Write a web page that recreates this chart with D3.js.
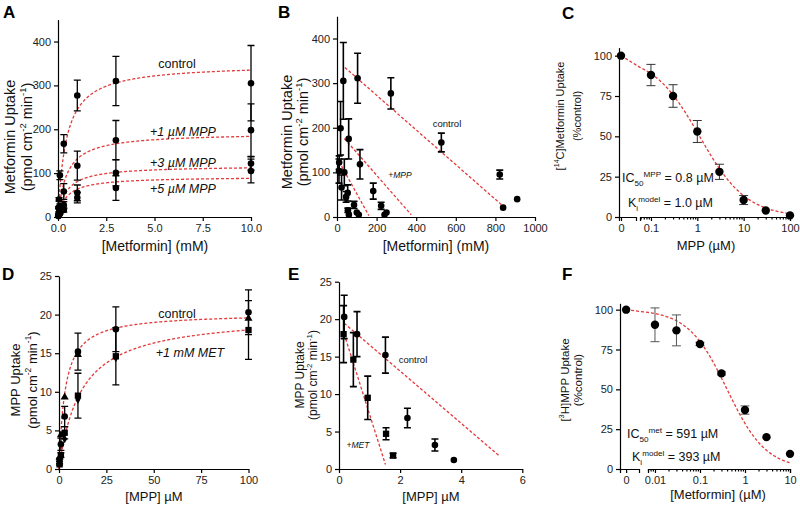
<!DOCTYPE html>
<html>
<head>
<meta charset="utf-8">
<script src="https://cdn.jsdelivr.net/npm/d3@7"></script>
<style>
body { margin: 0; background: #fff; }
svg { display: block; font-family: "Liberation Sans", Arial, Helvetica, sans-serif; }
.axis path, .axis line { stroke: #000; stroke-width: 1.2; }
.axis text { font-size: 11px; fill: #222; font-family: "Liberation Sans", Arial, sans-serif; }
</style>
</head>
<body>
<svg id="chart" width="800" height="509"></svg>
<script>
// ---- panel A: metformin uptake vs [metformin] (mM)
var aConc = [0.025, 0.05, 0.1, 0.3, 1, 3, 10];
var aControl = [21, 40, 95, 167, 277, 310, 305];
var aControlSd = [2, 4, 10, 21, 35, 56, 86];
var aMpp1 = [5, 10, 25, 58, 117, 175, 198];
var aMpp1Sd = [1, 2, 5, 18, 33, 45, 60];
var aMpp3 = [3, 6, 12, 27, 55, 101, 122];
var aMpp3Sd = [1, 1, 3, 8, 18, 30, 15];
var aMpp5 = [2, 4, 8, 16, 44, 66, 105];
var aMpp5Sd = [1, 1, 2, 5, 12, 28, 27];
var aFitVmax = [349, 192, 117, 92];
var aFitKm = [0.425, 0.45, 0.45, 0.45];
var aLabels = ["control", "+1 \u00b5M MPP", "+3 \u00b5M MPP", "+5 \u00b5M MPP"];

// ---- panel B: Eadie-Hofstee of A
var bControlX = [32, 104, 272, 527, 822, 839, 910];
var bControlY = [305, 311, 277, 167, 95, 21, 40];
var bControlSd = [86, 56, 35, 21, 10, 0, 0];
var bMpp1X = [18, 59, 116, 183, 223, 240, 250];
var bMpp1Y = [199, 175, 118, 58, 25, 5, 10];
var bMpp1Sd = [60, 45, 33, 18, 8, 0, 0];
var bMpp3X = [11, 37, 54, 86, 100, 110];
var bMpp3Y = [122, 100, 54, 27, 10, 5];
var bMpp3Sd = [15, 30, 18, 8, 0, 0];
var bMpp5X = [10, 23, 46, 55, 60];
var bMpp5Y = [103, 66, 45, 15, 5];
var bMpp5Sd = [27, 28, 12, 5, 0];
var bLines = [[40, 335, 845, 22], [37, 176, 375, 5], [23, 114, 161, 3]];

// ---- panel C: MPP inhibition of metformin uptake
var cConc = [0, 0.1, 0.3, 1, 3, 10, 30, 100];
var cUptake = [100, 88, 75, 53, 28, 10.5, 4, 1];
var cSd = [0, 6.6, 7, 6.8, 4.7, 2.8, 0, 0];
var cFit = [1.12, 0.86]; // IC50, hill
var cMajor = [0.1, 1, 10, 100];

// ---- panel D: MPP uptake vs [MPP] (uM)
var dConc = [0.3, 1, 3, 10, 30, 100];
var dControl = [1.2, 3.2, 6.8, 15.2, 18.1, 20.3];
var dControlSd = [0.2, 0.8, 1.3, 2.4, 2.9, 2.9];
var dMet = [0.6, 1.8, 4.7, 9.5, 14.6, 18.0];
var dMetSd = [0.1, 0.3, 0.8, 2.9, 3.7, 3.8];
var dTriConc = [0.3, 1, 3, 10, 100];
var dTri = [1.5, 4.4, 9.3, 14.8, 19.5];
var dDiaConc = [1, 3, 10, 30];
var dDia = [1.6, 3.9, 9.0, 14.4];
var dFitVmax = [20.2, 20.1];
var dFitKm = [3.2, 11.6];

// ---- panel E: Eadie-Hofstee of D
var eControlX = [0.17, 0.59, 1.52, 2.24, 3.14, 3.76];
var eControlY = [20.3, 18.0, 15.2, 6.8, 3.2, 1.2];
var eControlSd = [2.9, 3.0, 2.4, 1.3, 0.8, 0];
var eMetX = [0.15, 0.47, 0.94, 1.54, 1.77];
var eMetY = [18.0, 14.6, 9.5, 4.7, 1.8];
var eMetSd = [3.8, 3.6, 2.9, 0.8, 0.3];
var eLines = [[0.17, 19.45, 5.24, 1.78], [0.17, 18.0, 1.52, 0.6]];

// ---- panel F: metformin inhibition of MPP uptake
var fConc = [0, 0.01, 0.03, 0.1, 0.3, 1, 3, 10];
var fUptake = [100, 90.5, 87, 78.5, 60, 37, 20, 9.5];
var fSd = [0, 10.6, 9.7, 1, 1, 2.6, 0, 0];
var fFit = [0.4, 1.0];
var fMajor = [0.01, 0.1, 1, 10];

var svg = d3.select("#chart");
var red = "#e33a3a";
var plain = function(d) { return String(d); };

function yAxis(x0, y, ticks) {
  svg.append("g").attr("class", "axis").attr("transform", "translate(" + x0 + ",0)")
    .call(d3.axisLeft(y).tickValues(ticks).tickSize(4).tickSizeOuter(0).tickFormat(plain));
}
function xAxis(y0, x, ticks, fmt) {
  svg.append("g").attr("class", "axis").attr("transform", "translate(0," + y0 + ")")
    .call(d3.axisBottom(x).tickValues(ticks).tickSize(4).tickSizeOuter(0).tickFormat(fmt || plain));
}

function errBars(xs, ys, sds, x, y, cap, color, w) {
  var data = xs.map(function(v, i) { return {x: v, y: ys[i], s: sds[i]}; })
    .filter(function(d) { return d.s > 0; });
  svg.append("g").attr("stroke", color).attr("stroke-width", w).attr("fill", "none")
    .selectAll("path").data(data).join("path")
    .attr("d", function(d) {
      var cx = x(d.x), t = y(d.y + d.s), b = y(Math.max(0, d.y - d.s));
      return "M" + (cx - cap) + "," + t + "H" + (cx + cap) + "M" + cx + "," + t + "V" + b +
        "M" + (cx - cap) + "," + b + "H" + (cx + cap);
    });
}

function dots(xs, ys, x, y, r) {
  svg.append("g").selectAll("circle").data(xs).join("circle")
    .attr("cx", function(d) { return x(d); })
    .attr("cy", function(d, i) { return y(ys[i]); })
    .attr("r", r).attr("fill", "#000");
}
function symbols(xs, ys, x, y, type, size) {
  svg.append("g").selectAll("path").data(xs).join("path")
    .attr("transform", function(d, i) { return "translate(" + x(d) + "," + y(ys[i]) + ")"; })
    .attr("d", d3.symbol().type(type).size(size)).attr("fill", "#000");
}

function dashed(pts, x, y) {
  svg.append("path").datum(pts)
    .attr("d", d3.line().x(function(d) { return x(d[0]); }).y(function(d) { return y(d[1]); }))
    .attr("fill", "none").attr("stroke", red).attr("stroke-width", 1.3)
    .attr("stroke-dasharray", "3,2");
}

// rich text with sub/superscripts
function rich(parent, parts, size) {
  var t = parent.append("text").attr("font-size", size).attr("fill", "#111");
  var off = 0;
  parts.forEach(function(p) {
    var target = p.sup ? -0.42 * size : (p.sub ? 0.28 * size : 0);
    t.append("tspan").attr("dy", target - off)
      .attr("font-size", p.sup || p.sub ? size * 0.65 : size).text(p.t);
    off = target;
  });
  return t;
}

function yTitle(cx1, cx2, cy, size, line1, line2) {
  var g1 = svg.append("g").attr("transform", "translate(" + (cx1 + size * 0.35) + "," + cy + ") rotate(-90)");
  rich(g1, line1, size).attr("text-anchor", "middle");
  var g2 = svg.append("g").attr("transform", "translate(" + (cx2 + size * 0.35) + "," + cy + ") rotate(-90)");
  rich(g2, line2, size).attr("text-anchor", "middle");
}
var pmol = [{t: "(pmol cm"}, {t: "-2", sup: true}, {t: " min"}, {t: "-1", sup: true}, {t: ")"}];

function label(x, y, txt, size, italic, anchor) {
  svg.append("text").attr("x", x).attr("y", y).attr("font-size", size)
    .attr("font-style", italic ? "italic" : "normal").attr("fill", "#111")
    .attr("text-anchor", anchor || "middle").text(txt);
}
function letter(x, y, t) {
  svg.append("text").attr("x", x).attr("y", y).attr("font-size", 17)
    .attr("font-weight", "bold").attr("fill", "#000").text(t);
}

function mmCurve(vmax, km, xmax) {
  return d3.range(0, 401).map(function(i) {
    var s = xmax * Math.pow(i / 400, 1.6);
    return [s, vmax * s / (km + s)];
  });
}

// ================= A
var ax = d3.scaleLinear().domain([0, 10]).range([58, 251]);
var ay = d3.scaleLinear().domain([0, 450]).range([217, 19.6]);
[0, 1, 2, 3].forEach(function(k) { dashed(mmCurve(aFitVmax[k], aFitKm[k], 10), ax, ay); });
[[aMpp5, aMpp5Sd], [aMpp3, aMpp3Sd], [aMpp1, aMpp1Sd], [aControl, aControlSd]].forEach(function(s) {
  errBars(aConc, s[0], s[1], ax, ay, 3.5, "#000", 1.3);
  dots(aConc, s[0], ax, ay, 3.3);
});
yAxis(58, ay, [0, 100, 200, 300, 400]);
xAxis(217, ax, [0, 2.5, 5, 7.5, 10], d3.format(".1f"));
label(177, 68, aLabels[0], 12.5, false);
label(183, 136, aLabels[1], 12.5, true);
label(183, 167, aLabels[2], 12.5, true);
label(183, 193, aLabels[3], 12.5, true);
yTitle(10, 27, 137, 14.5, [{t: "Metformin Uptake"}], pmol);
label(155, 251, "[Metformin] (mM)", 14, false);
letter(3, 18, "A");

// ================= B
var bx = d3.scaleLinear().domain([0, 1000]).range([337, 535]);
var by = d3.scaleLinear().domain([0, 450]).range([217, 16.2]);
bLines.forEach(function(l) { dashed([[l[0], l[1]], [l[2], l[3]]], bx, by); });
[[bMpp5X, bMpp5Y, bMpp5Sd], [bMpp3X, bMpp3Y, bMpp3Sd], [bMpp1X, bMpp1Y, bMpp1Sd], [bControlX, bControlY, bControlSd]].forEach(function(s) {
  errBars(s[0], s[1], s[2], bx, by, 3.5, "#000", 1.6);
  dots(s[0], s[1], bx, by, 3.3);
});
yAxis(337, by, [0, 100, 200, 300, 400]);
xAxis(217, bx, [0, 200, 400, 600, 800, 1000]);
label(447, 127, "control", 9.5, false);
label(400, 178, "+MPP", 8.5, true);
yTitle(287, 303, 132, 14.5, [{t: "Metformin Uptake"}], pmol);
label(436, 251, "[Metformin] (mM)", 14, false);
letter(278, 18, "B");

// ================= C
var cy = d3.scaleLinear().domain([0, 105]).range([217, 47.6]);
var cx0 = d3.scaleLinear().domain([-1, 7.5]).range([619, 636]);
var cxl = d3.scaleLog().domain([0.058, 100]).range([640, 790]);
var cxp = function(d) { return d === 0 ? cx0(0) : cxl(d); };
var cCurve = [[0, 100]].concat(d3.range(0, 201).map(function(i) {
  var v = Math.pow(10, Math.log10(0.058) + i * (2 - Math.log10(0.058)) / 200);
  return [v, 100 / (1 + Math.pow(v / cFit[0], cFit[1]))];
}));
dashed(cCurve, cxp, cy);
errBars(cConc, cUptake, cSd, cxp, cy, 4.5, "#333", 1);
dots(cConc, cUptake, cxp, cy, 4.2);
yAxis(619, cy, [0, 25, 50, 75, 100]);
svg.append("g").attr("class", "axis").attr("transform", "translate(0,217)")
  .call(d3.axisBottom(cx0).tickValues([0]).tickSize(4).tickSizeOuter(4).tickFormat(plain));
svg.append("g").attr("class", "axis").attr("transform", "translate(0,217)")
  .call(d3.axisBottom(cxl).tickValues(cMajor).tickSize(4).tickSizeOuter(4).tickFormat(plain));
svg.append("g").attr("class", "axis").attr("transform", "translate(0,217)")
  .call(d3.axisBottom(cxl).tickValues(cxl.ticks().filter(function(d) { return cMajor.indexOf(d) < 0; }))
    .tickSize(2.5).tickSizeOuter(0).tickFormat(""))
  .select(".domain").remove();
rich(svg, [{t: "IC"}, {t: "50", sub: true}, {t: "MPP", sup: true}, {t: " = 0.8 \u00b5M"}], 12.5)
  .attr("x", 622).attr("y", 182);
rich(svg, [{t: "K"}, {t: "i", sub: true}, {t: "model", sup: true}, {t: " = 1.0 \u00b5M"}], 12.5)
  .attr("x", 628).attr("y", 207);
yTitle(560, 577, 116, 11, [{t: "["}, {t: "14", sup: true}, {t: "C]Metformin Uptake"}], [{t: "(%control)"}]);
label(706, 250, "MPP (\u00b5M)", 13, false);
letter(562, 19, "C");

// ================= D
var dx = d3.scaleLinear().domain([0, 100]).range([59, 248.5]);
var dy = d3.scaleLinear().domain([0, 25]).range([469, 276]);
dFitVmax.forEach(function(v, k) { dashed(mmCurve(v, dFitKm[k], 100), dx, dy); });
errBars(dConc, dMet, dMetSd, dx, dy, 3.5, "#000", 1.3);
errBars(dConc, dControl, dControlSd, dx, dy, 3.5, "#000", 1.3);
symbols(dDiaConc, dDia, dx, dy, d3.symbolDiamond, 22);
symbols(dTriConc, dTri, dx, dy, d3.symbolTriangle, 28);
symbols(dConc, dMet, dx, dy, d3.symbolSquare, 40);
dots(dConc, dControl, dx, dy, 3.3);
yAxis(59, dy, [0, 5, 10, 15, 20, 25]);
xAxis(469, dx, [0, 25, 50, 75, 100]);
label(177, 318, "control", 12.5, false);
label(190, 357, "+1 mM MET", 12.5, true);
yTitle(15, 32, 380, 13, [{t: "MPP Uptake"}], pmol);
label(154, 501, "[MPP] \u00b5M", 13, false);
letter(2, 280, "D");

// ================= E
var ex = d3.scaleLinear().domain([0, 6]).range([339, 522.3]);
var ey = d3.scaleLinear().domain([0, 25]).range([469, 281.7]);
eLines.forEach(function(l) { dashed([[l[0], l[1]], [l[2], l[3]]], ex, ey); });
errBars(eMetX, eMetY, eMetSd, ex, ey, 3.5, "#000", 1.6);
errBars(eControlX, eControlY, eControlSd, ex, ey, 3.5, "#000", 1.6);
symbols(eMetX, eMetY, ex, ey, d3.symbolSquare, 40);
dots(eControlX, eControlY, ex, ey, 3.3);
yAxis(339, ey, [0, 5, 10, 15, 20, 25]);
xAxis(469, ex, [0, 2, 4, 6]);
label(413, 363, "control", 9.5, false);
label(358, 448, "+MET", 8.5, true);
yTitle(300, 313, 375, 12, [{t: "MPP Uptake"}], pmol);
label(431, 501, "[MPP] \u00b5M", 13, false);
letter(288, 280, "E");

// ================= F
var fy = d3.scaleLinear().domain([0, 104]).range([469, 303.3]);
var fx0 = d3.scaleLinear().domain([-1, 2.1]).range([620, 639]);
var fxl = d3.scaleLog().domain([0.007, 10]).range([648, 790]);
var fxp = function(d) { return d === 0 ? fx0(0) : fxl(d); };
var fCurve = [[0, 100]].concat(d3.range(0, 201).map(function(i) {
  var v = Math.pow(10, Math.log10(0.007) + i * (1 - Math.log10(0.007)) / 200);
  return [v, 100 / (1 + Math.pow(v / fFit[0], fFit[1]))];
}));
dashed(fCurve, fxp, fy);
errBars(fConc, fUptake, fSd, fxp, fy, 4.5, "#555", 1);
dots(fConc, fUptake, fxp, fy, 4.2);
yAxis(620, fy, [0, 25, 50, 75, 100]);
svg.append("g").attr("class", "axis").attr("transform", "translate(0,469)")
  .call(d3.axisBottom(fx0).tickValues([0]).tickSize(4).tickSizeOuter(4).tickFormat(plain));
svg.append("g").attr("class", "axis").attr("transform", "translate(0,469)")
  .call(d3.axisBottom(fxl).tickValues(fMajor).tickSize(4).tickSizeOuter(4).tickFormat(plain));
svg.append("g").attr("class", "axis").attr("transform", "translate(0,469)")
  .call(d3.axisBottom(fxl).tickValues(fxl.ticks().filter(function(d) { return fMajor.indexOf(d) < 0; }))
    .tickSize(2.5).tickSizeOuter(0).tickFormat(""))
  .select(".domain").remove();
rich(svg, [{t: "IC"}, {t: "50", sub: true}, {t: "met", sup: true}, {t: " = 591 \u00b5M"}], 12.5)
  .attr("x", 627).attr("y", 438);
rich(svg, [{t: "K"}, {t: "i", sub: true}, {t: "model", sup: true}, {t: " = 393 \u00b5M"}], 12.5)
  .attr("x", 632).attr("y", 461);
yTitle(565, 578, 380, 11.5, [{t: "["}, {t: "3", sup: true}, {t: "H]MPP Uptake"}], [{t: "(%control)"}]);
label(718, 499, "[Metformin] (\u00b5M)", 13, false);
letter(562, 280, "F");
</script>
</body>
</html>
